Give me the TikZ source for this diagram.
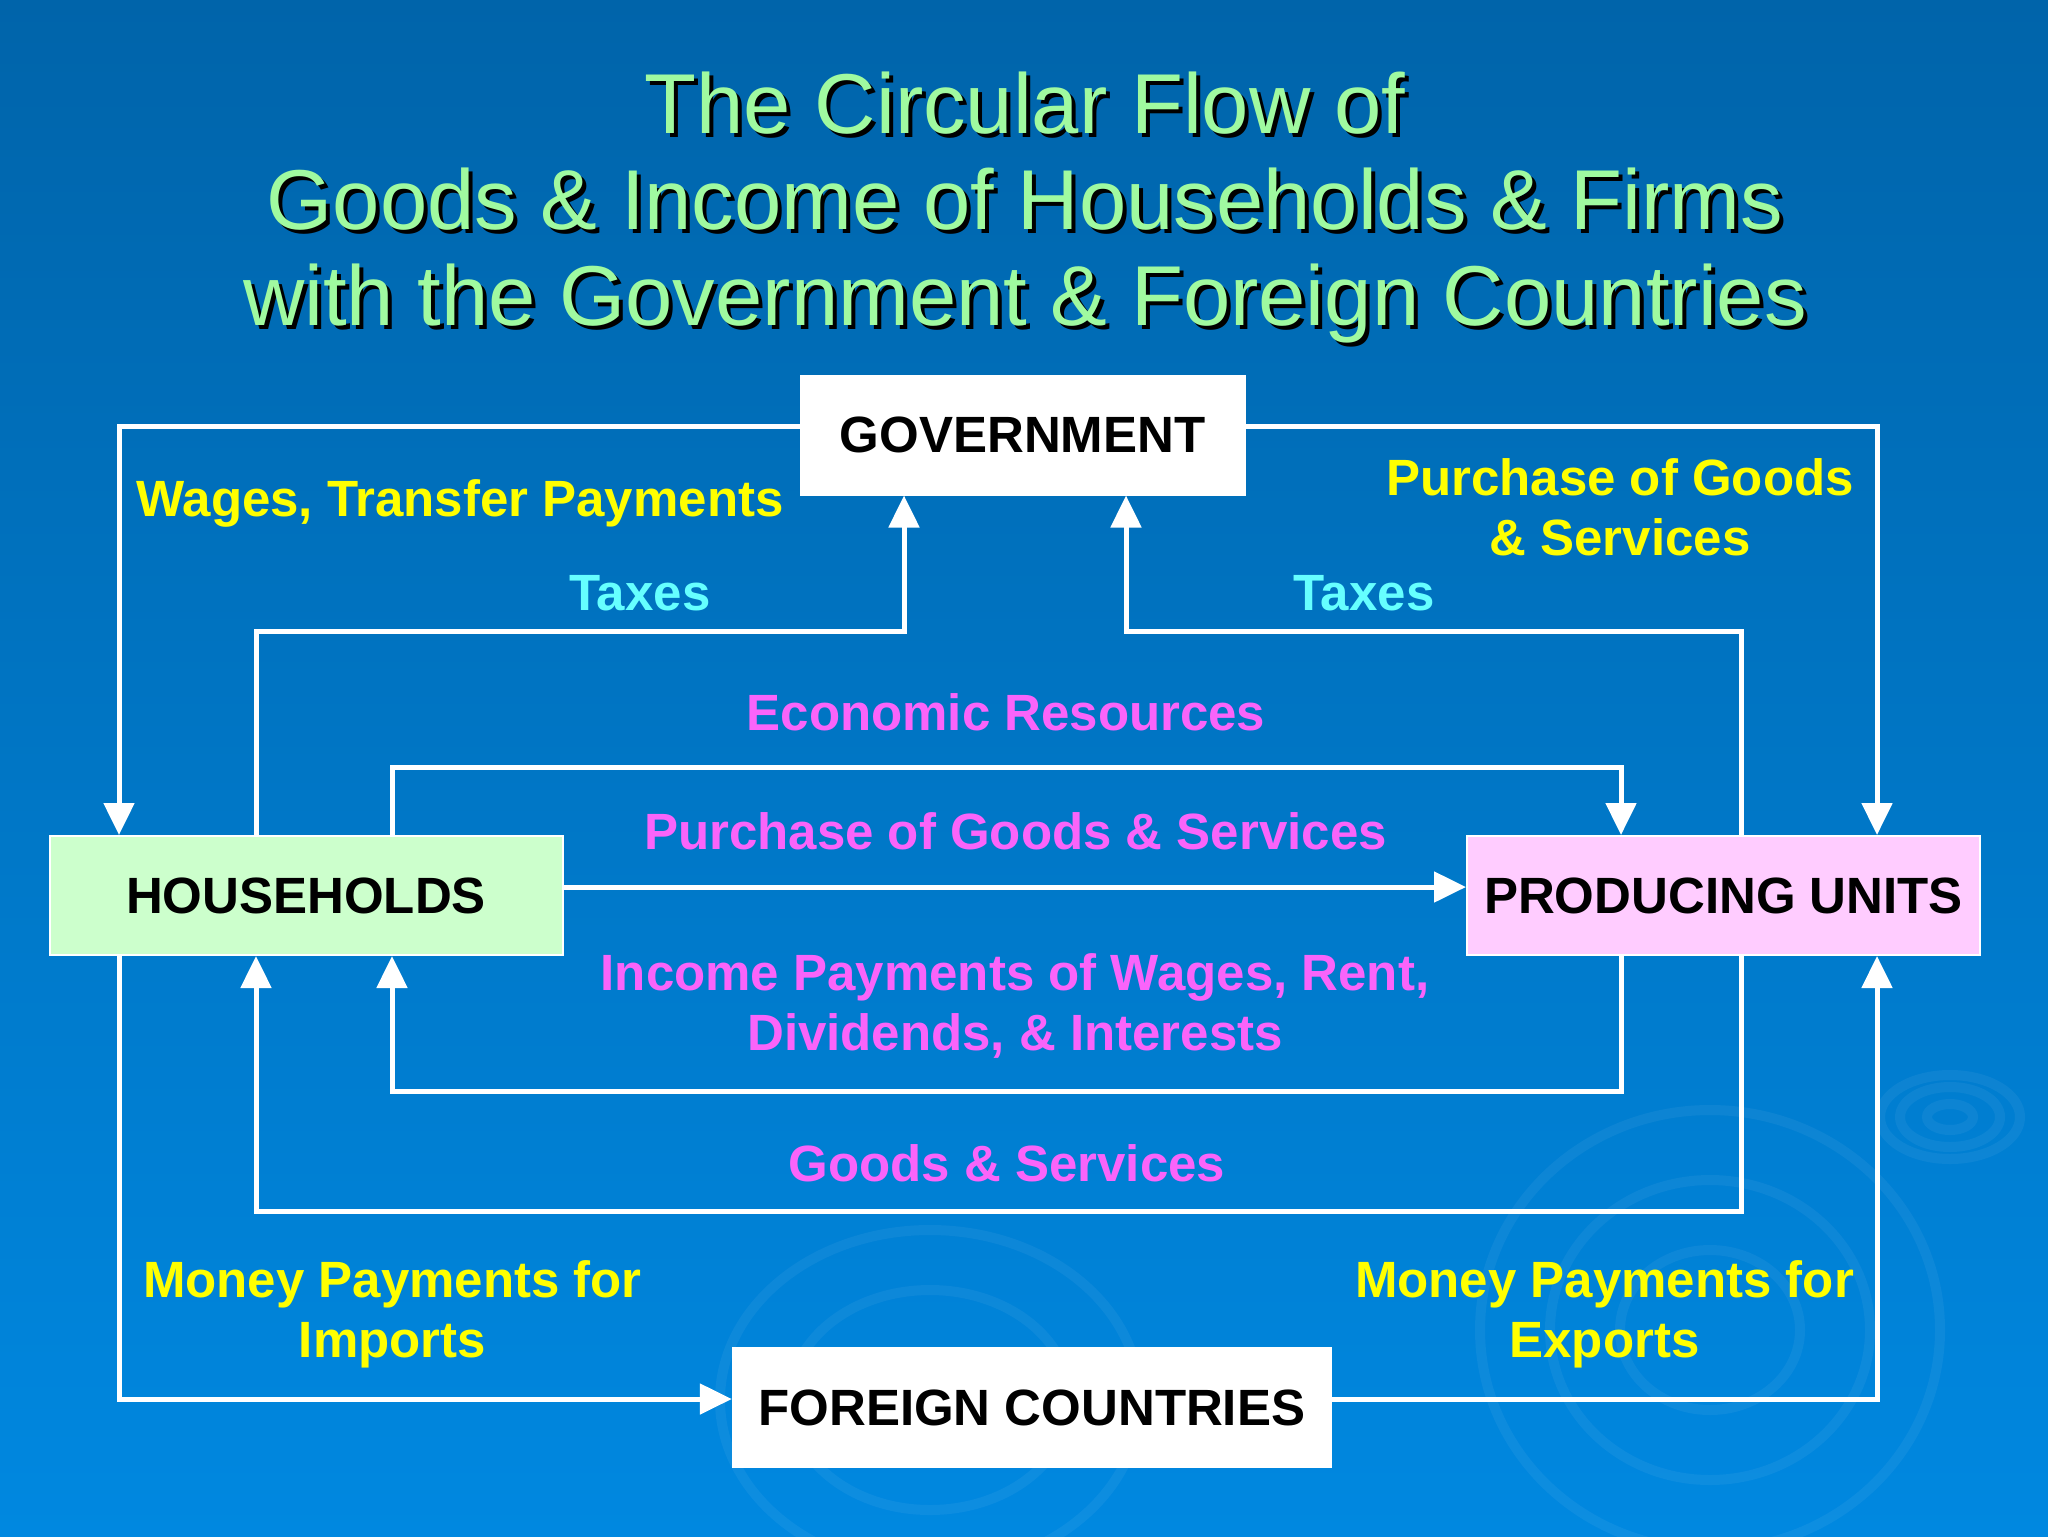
\documentclass[tikz,border=0pt]{standalone}
\usepackage{fontspec}
\setmainfont{Liberation Sans}
\usepackage{tikz}
\usetikzlibrary{arrows.meta}
\definecolor{bgtop}{RGB}{0,100,170}
\definecolor{bgbot}{RGB}{0,136,224}
\definecolor{titlegreen}{RGB}{160,250,160}
\definecolor{hhgreen}{RGB}{204,255,204}
\definecolor{pupink}{RGB}{255,204,255}
\definecolor{lblyellow}{RGB}{255,255,0}
\definecolor{lblcyan}{RGB}{102,255,255}
\definecolor{lblmagenta}{RGB}{250,100,250}
\newcommand{\titletext}{The Circular Flow of\\Goods \& Income of Households \& Firms\\with the Government \& Foreign Countries}

\begin{document}
\begin{tikzpicture}[x=0.5pt,y=-0.5pt]
		\tikzstyle{box}=[draw=white,line width=1pt,minimum height=59.5pt,font=\fontsize{25.5}{30}\selectfont\bfseries,text=black]
		\tikzstyle{flow}=[draw=white,line width=2.5pt,-{Triangle[length=16pt,width=15pt]}]
		\tikzstyle{lbl}=[anchor=base,align=center,inner sep=0pt,font=\fontsize{25.5}{30}\selectfont\bfseries]
		\tikzstyle{ttl}=[anchor=base,align=center,inner sep=0pt,font=\fontsize{42.5}{48}\selectfont]
		\useasboundingbox (0,0) rectangle (2048,1536);
		% background
		\shade[top color=bgtop,bottom color=bgbot] (0,0) rectangle (2048,1536);
		\begin{scope}[white,opacity=0.05,line width=5pt]
		\draw (1950,1117) ellipse (23 and 13);
		\draw (1950,1117) ellipse (50 and 30);
		\draw (1950,1117) ellipse (70 and 42);
		\draw (1710,1330) ellipse (90 and 80);
		\draw (1710,1330) ellipse (160 and 150);
		\draw (1710,1330) ellipse (230 and 220);
		\draw (930,1400) ellipse (140 and 110);
		\draw (930,1400) ellipse (210 and 170);
		\end{scope}
		% title
		\node[ttl,text=black] at (1029,329) {\titletext};
		\node[ttl,text=titlegreen] (title) at (1025,325) {\titletext};
		% sectors
		\node[box,fill=white,minimum width=222pt] (gov) at (1022.7,435) {GOVERNMENT};
		\node[box,fill=hhgreen,minimum width=256.5pt] (hh) at (306,895.5) {HOUSEHOLDS};
		\node[box,fill=pupink,minimum width=256.5pt] (pu) at (1723.5,895.5) {PRODUCING UNITS};
		\node[box,fill=white,minimum width=299pt] (fc) at (1031.8,1407.5) {FOREIGN COUNTRIES};
		% corners
		\coordinate (taxL) at (904,631);
		\coordinate (taxR) at (1126,631);
		\coordinate (res) at (1621,767);
		\coordinate (inc) at (1621,1091);
		\coordinate (gds) at (1741,1211);
		\coordinate (imp) at (119,1399);
		\coordinate (exp) at (1877,1399);
		% flows
		\draw[flow] ([yshift=4.5pt]gov.west) -| ([xshift=-93.5pt]hh.north);
		\draw[flow] ([yshift=4.5pt]gov.east) -| ([xshift=76.75pt]pu.north);
		\draw[flow] ([xshift=-25pt]hh.north) |- (taxL) -- (taxL |- gov.south);
		\draw[flow] ([xshift=8.75pt]pu.north) |- (taxR) -- (taxR |- gov.south);
		\draw[flow] ([xshift=43pt]hh.north) |- (res) -- (res |- pu.north);
		\draw[flow] ([yshift=4.25pt]hh.east) -- ([yshift=4.25pt]pu.west);
		\draw[flow] (inc |- pu.south) -- (inc) -| ([xshift=43pt]hh.south);
		\draw[flow] (gds |- pu.south) -- (gds) -| ([xshift=-25pt]hh.south);
		\draw[flow] (imp |- hh.south) -- (imp) -- (imp -| fc.west);
		\draw[flow] (exp -| fc.east) -- (exp) -- (exp |- pu.south);
		% labels
		\node[lbl,text=lblyellow] (wages) at (460,516) {Wages, Transfer Payments};
		\node[lbl,text=lblyellow] (govbuy) at (1620,555) {Purchase of Goods\\\& Services};
		\node[lbl,text=lblcyan] (taxesL) at (640,610) {Taxes};
		\node[lbl,text=lblcyan] (taxesR) at (1364,610) {Taxes};
		\node[lbl,text=lblmagenta] (resources) at (1006,730) {Economic Resources};
		\node[lbl,text=lblmagenta] (hhbuy) at (1015.5,849) {Purchase of Goods \& Services};
		\node[lbl,text=lblmagenta] (income) at (1015,1050) {Income Payments of Wages, Rent,\\Dividends, \& Interests};
		\node[lbl,text=lblmagenta] (goods) at (1007,1181) {Goods \& Services};
		\node[lbl,text=lblyellow] (imports) at (392.5,1357) {Money Payments for\\Imports};
		\node[lbl,text=lblyellow] (exports) at (1604.5,1357) {Money Payments for\\Exports};
\end{tikzpicture}
\end{document}
